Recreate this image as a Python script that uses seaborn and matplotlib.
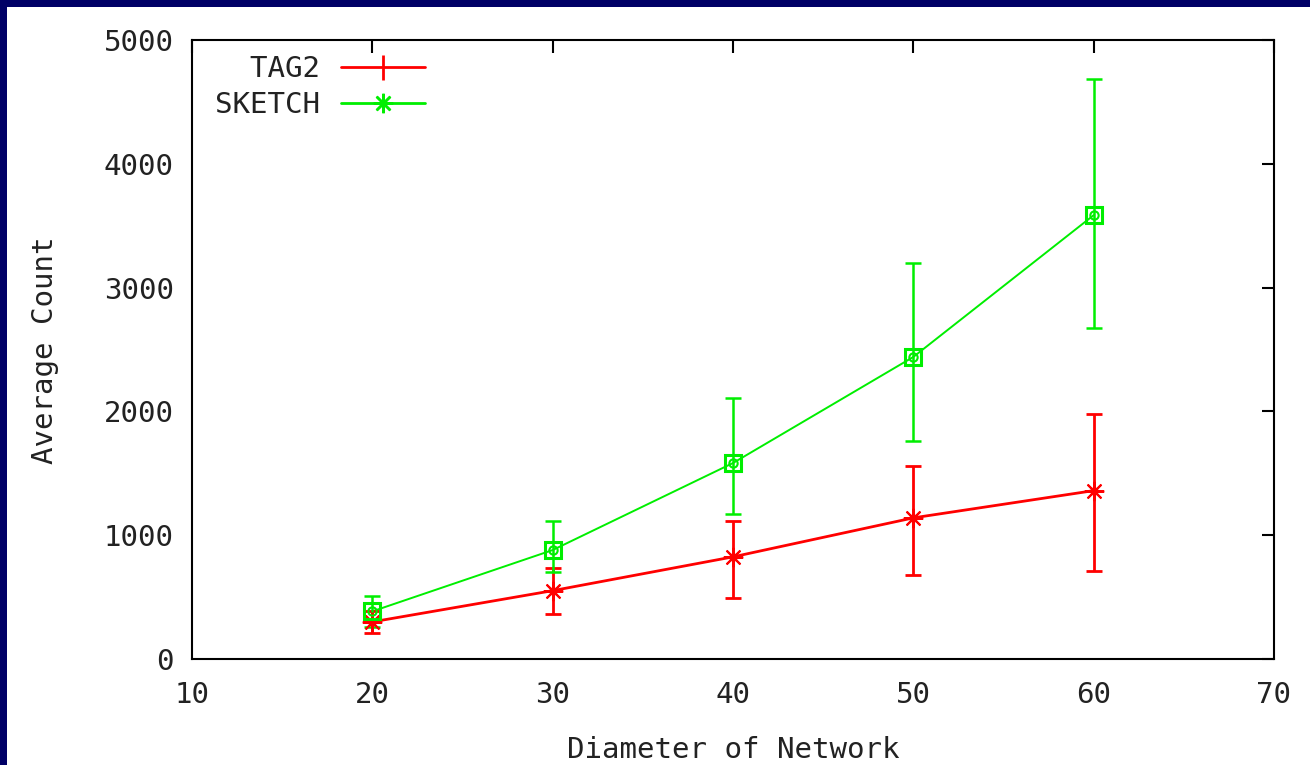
import matplotlib
matplotlib.use("Agg")
import matplotlib.pyplot as plt
from matplotlib.lines import Line2D
from matplotlib.patches import Rectangle
import seaborn as sns
import pandas as pd
import numpy as np

# ---- data ----
diameters = [20, 30, 40, 50, 60]
tag2_mean = [300, 552, 825, 1140, 1360]
tag2_low = [210, 363, 493, 679, 713]
tag2_high = [390, 735, 1115, 1559, 1980]
sketch_mean = [385, 880, 1583, 2440, 3585]
sketch_low = [262, 700, 1171, 1761, 2676]
sketch_high = [510, 1117, 2108, 3195, 4685]
series_names = ["TAG2", "SKETCH"]
x_ticks = [10, 20, 30, 40, 50, 60, 70]
y_ticks = [0, 1000, 2000, 3000, 4000, 5000]

RED = "#ff0000"
GREEN = "#00ee00"
NAVY = "#000066"
TXT = "#222222"
FONT = "DejaVu Sans Mono"

sns.set_theme(style="white")
plt.rcParams["font.family"] = [FONT, "DejaVu Sans"]

df = pd.DataFrame({
    "diameter": diameters * 2,
    "count": tag2_mean + sketch_mean,
    "series": [series_names[0]] * len(diameters) + [series_names[1]] * len(diameters),
})

fig = plt.figure(figsize=(13.10, 7.65), dpi=100)
fig.patch.set_facecolor("white")
ax = fig.add_axes([192 / 1310, 1 - 659 / 765, (1274 - 192) / 1310, (659 - 40) / 765])

sns.lineplot(data=df[df.series == "TAG2"], x="diameter", y="count", color=RED,
             linewidth=2.0, ax=ax, legend=False, zorder=3)
sns.lineplot(data=df[df.series == "SKETCH"], x="diameter", y="count", color=GREEN,
             linewidth=1.4, ax=ax, legend=False, zorder=3)

t_m = np.array(tag2_mean)
s_m = np.array(sketch_mean)
ax.errorbar(diameters, t_m, yerr=[t_m - np.array(tag2_low), np.array(tag2_high) - t_m],
            fmt="none", ecolor=RED, elinewidth=2.0, capsize=6, capthick=2.0, zorder=4)
ax.errorbar(diameters, s_m, yerr=[s_m - np.array(sketch_low), np.array(sketch_high) - s_m],
            fmt="none", ecolor=GREEN, elinewidth=1.8, capsize=6, capthick=1.8, zorder=4)

# markers
ax.plot(diameters, t_m, linestyle="none", marker=(8, 2, 0), markersize=14,
        markeredgecolor=RED, markeredgewidth=1.5, zorder=5)
ax.plot(diameters, t_m, linestyle="none", marker="o", markersize=5,
        color=RED, zorder=5)
ax.plot(diameters, s_m, linestyle="none", marker="s", markersize=12,
        markerfacecolor="none", markeredgecolor=GREEN, markeredgewidth=2.2, zorder=5)
ax.plot(diameters, s_m, linestyle="none", marker="o", markersize=6,
        markerfacecolor="none", markeredgecolor=GREEN, markeredgewidth=1.5, zorder=5)

ax.set_xlim(10, 70)
ax.set_ylim(0, 5000)
ax.set_xticks(x_ticks)
ax.set_yticks(y_ticks)
ax.set_xticklabels([str(v) for v in x_ticks])
ax.set_yticklabels([str(v) for v in y_ticks])
ax.tick_params(axis="both", direction="in", length=9, width=1.5, colors="black",
               labelsize=21, top=True, right=True, labelcolor=TXT)
ax.tick_params(axis="x", pad=16)
ax.tick_params(axis="y", pad=13)
for sp in ax.spines.values():
    sp.set_visible(True)
    sp.set_color("black")
    sp.set_linewidth(1.5)
ax.set_facecolor("white")

ax.set_xlabel("Diameter of Network", fontsize=21, color=TXT)
ax.xaxis.set_label_coords(0.5, (659 - 750) / 619)
ax.xaxis.label.set_va("center")
ax.set_ylabel("Average Count", fontsize=21, color=TXT)
ax.yaxis.set_label_coords((45 - 192) / 1082, (659 - 350) / 619)
ax.yaxis.label.set_va("center")

handles = [
    Line2D([0], [0], color=RED, linewidth=2.0, marker="|", markersize=18, markeredgewidth=2.0),
    Line2D([0], [0], color=GREEN, linewidth=2.0, marker=(8, 2, 0), markersize=14, markeredgewidth=1.8),
]
leg = ax.legend(handles, ["  " + series_names[0], series_names[1]], loc="upper left",
                bbox_to_anchor=(0.002, 1.008), frameon=False, markerfirst=False,
                fontsize=21, handlelength=2.85, handletextpad=0.75, labelspacing=0.25,
                borderaxespad=0.3)
for t in leg.get_texts():
    t.set_color(TXT)

# navy border on left and top
fig.patches.append(Rectangle((0, 0), 7 / 1310, 1, transform=fig.transFigure,
                             facecolor=NAVY, edgecolor="none", zorder=10))
fig.patches.append(Rectangle((0, 1 - 7 / 765), 1, 7 / 765, transform=fig.transFigure,
                             facecolor=NAVY, edgecolor="none", zorder=10))

fig.savefig("out.png", dpi=100, facecolor="white")
